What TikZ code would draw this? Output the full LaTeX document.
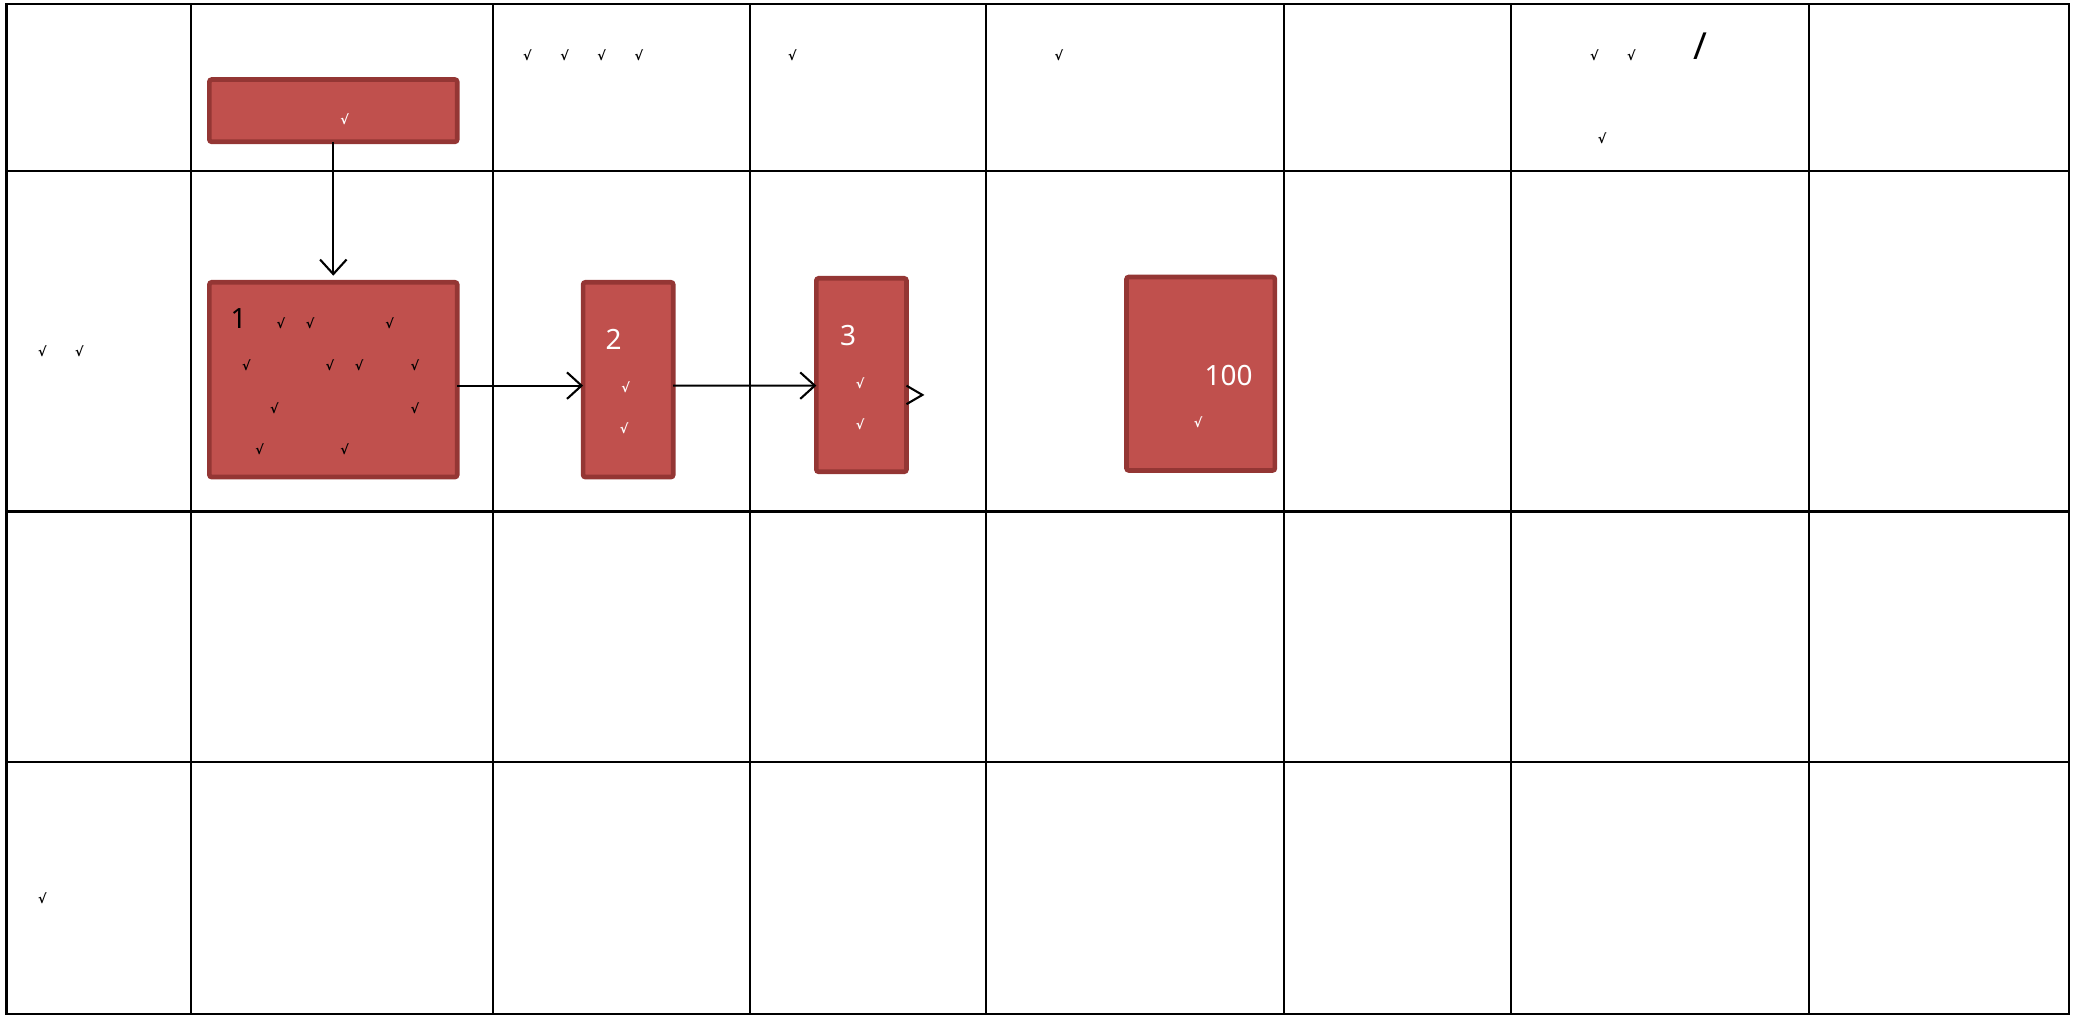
\documentclass[tikz,border=0pt]{standalone}
\usepackage{fontspec}
\setmainfont{Noto Sans}
\newfontfamily\ckfont{DejaVu Sans}
\usetikzlibrary{arrows.meta,calc}
\definecolor{boxfill}{HTML}{C0504D}
\definecolor{boxline}{HTML}{943634}
\begin{document}
\begin{tikzpicture}[x=0.02cm,y=-0.02cm,
  gridline/.style={line width=1pt},
  redbox/.style={draw=boxline,fill=boxfill,line width=2pt,rounded corners=1pt,inner sep=0pt,outer sep=0pt},
  ck/.style={font=\ckfont\bfseries\fontsize{5.5}{5.5}\selectfont,inner sep=0pt},
  ckw/.style={ck,text=white},
  num/.style={font=\fontsize{12}{12}\selectfont,inner sep=0pt},
  link/.style={line width=0.9pt,-{Straight Barb[length=2.2mm,width=4mm]}}
]
\useasboundingbox (0,0) rectangle (1568,766);
% grid
\draw[gridline] (5,3) rectangle (1561,765);
\foreach \yy in {129,386,575} \draw[gridline] (5,\yy) -- (1561,\yy);
\foreach \xx in {144,372,566,744,969,1140,1365} \draw[gridline] (\xx,3) -- (\xx,765);
% boxes
\node[redbox,minimum width=3.74cm,minimum height=0.94cm] (top) at (251.5,83.5) {};
\node[redbox,minimum width=3.74cm,minimum height=2.94cm] (b1) at (251.5,286.5) {};
\node[redbox,minimum width=1.36cm,minimum height=2.94cm] (b2) at (474,286.5) {};
\node[redbox,minimum width=1.36cm,minimum height=2.92cm] (b3) at (650,283) {};
\node[redbox,minimum width=2.24cm,minimum height=2.92cm] (b100) at (906,282) {};
% connectors
\draw[link] (top.south) -- ($(b1.north)+(0,-5)$);
\draw[link] ($(b1.east)+(0,4.5)$) -- ($(b2.west)+(0,4.5)$);
\draw[link] ($(b2.east)+(0,4.5)$) -- ($(b3.west)+(0,8)$);
\coordinate (tipend) at ($(b3.east)+(0,15)$);
\draw[line width=0.9pt] ($(tipend)+(0,-7)$) -- ($(tipend)+(12,0)$) -- ($(tipend)+(0,7)$);
% header texts
\node[ck] (h1) at (398,42) {√};
\node[ck] (h2) at (426,42) {√};
\node[ck] (h3) at (454,42) {√};
\node[ck] (h4) at (482,42) {√};
\node[ck] (h5) at (598,42) {√};
\node[ck] (h6) at (799,42) {√};
\node[ck] (h7) at (1203,42) {√};
\node[ck] (h8) at (1231,42) {√};
\node[font=\bfseries\fontsize{16}{16}\selectfont,inner sep=0pt] (hs) at (1283,35) {/};
\node[ck] (h9) at (1209,104) {√};
% left column
\node[ck] (l1) at (32,265) {√};
\node[ck] (l2) at (60,265) {√};
\node[ck] (l3) at (32,678) {√};
% top box text
\node[ckw] (t1) at (260,90) {√};
% box 1
\node[num] (n1) at (180,240) {1};
\node[ck] (c1) at (212,244) {√};
\node[ck] (c2) at (234,244) {√};
\node[ck] (c3) at (294,244) {√};
\node[ck] (c4) at (186,276) {√};
\node[ck] (c5) at (249,276) {√};
\node[ck] (c6) at (271,276) {√};
\node[ck] (c7) at (313,276) {√};
\node[ck] (c8) at (207,308) {√};
\node[ck] (c9) at (313,308) {√};
\node[ck] (c10) at (196,339) {√};
\node[ck] (c11) at (260,339) {√};
% box 2
\node[num,text=white] (n2) at (463,256) {2};
\node[ckw] (d1) at (472,292) {√};
\node[ckw] (d2) at (471,323) {√};
% box 3
\node[num,text=white] (n3) at (640,253) {3};
\node[ckw] (e1) at (649,289) {√};
\node[ckw] (e2) at (649,320) {√};
% box 100
\node[num,text=white] (n100) at (927,283) {100};
\node[ckw] (f1) at (904,319) {√};
\end{tikzpicture}
\end{document}
